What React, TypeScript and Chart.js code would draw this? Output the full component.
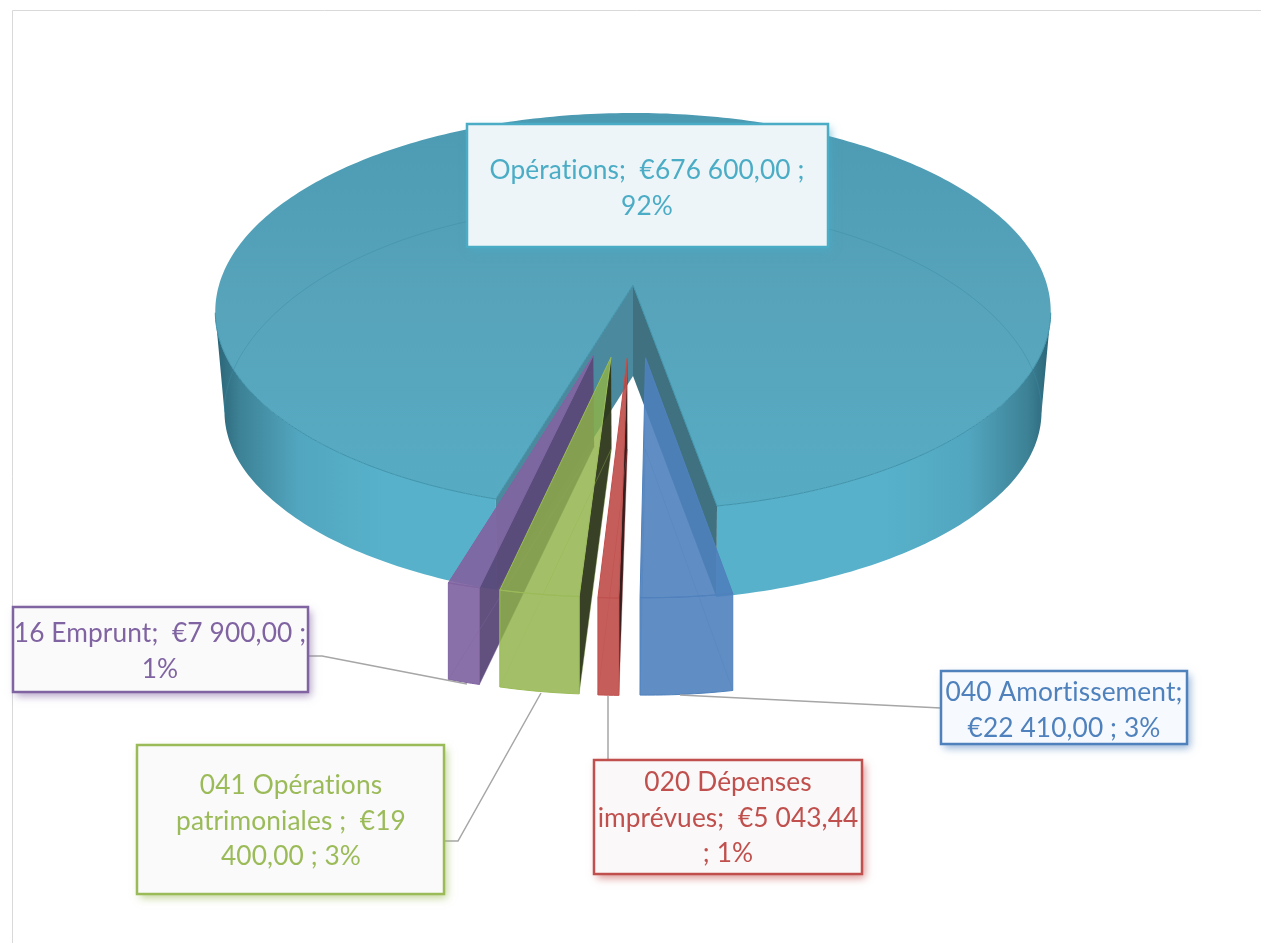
import React, { useEffect, useRef } from "react";
import { Chart, registerables } from "chart.js";

Chart.register(...registerables);

// ---- data ----
const categories = ["Opérations", "040 Amortissement", "020 Dépenses imprévues", "041 Opérations patrimoniales", "16 Emprunt"];
const values = [676600, 22410, 5043.44, 19400, 7900];
const labelLines = [
  ["Opérations;  €676 600,00 ;", "92%"],
  ["040 Amortissement;", "€22 410,00 ; 3%"],
  ["020 Dépenses", "imprévues;  €5 043,44", "; 1%"],
  ["041 Opérations", "patrimoniales ;  €19", "400,00 ; 3%"],
  ["16 Emprunt;  €7 900,00 ;", "1%"],
];
const lineColors = ["#4bacc6", "#4f81bd", "#c0504d", "#9bbb59", "#8064a2"];
const boxFills = ["#edf5f8", "#f6f9fd", "#faf8f8", "#fafafa", "#fafafa"];

// ---- layout of the label boxes: x0, y0, x1, y1, text centre of 1st line ----
const boxes = [
  { x0: 467, y0: 124, x1: 828, y1: 247, cx: 647, ty: 171 },
  { x0: 941, y0: 671, x1: 1187, y1: 744, cx: 1064, ty: 693 },
  { x0: 594, y0: 760, x1: 862, y1: 874, cx: 728, ty: 783 },
  { x0: 137, y0: 745, x1: 444, y1: 894, cx: 291, ty: 786 },
  { x0: 13, y0: 607, x1: 308, y1: 692, cx: 160, ty: 634 },
];
const leaders = [
  [] as number[][],
  [[941, 708], [680, 695]],
  [[608, 760], [608, 696]],
  [[445, 841], [458, 841], [541, 693]],
  [[308, 656], [322, 656], [467, 684]],
];

// ---- projection of the pie's plane onto the page ----
const CX = 633, CY = 285, K = 0.1335, A = 195, B = 414;
const EXPLODE = 0.357, SLICE_R = 0.965;
const DEG = Math.PI / 180;

type Pt = [number, number];
function project(u: number, v: number, z: number): Pt {
  const d = 1 - K * v;
  const x = (B * u) / d;
  const y = (A * v) / d;
  const depth = 91 + 20 * Math.max(0, v - 1) + 9 * u * u * u * u;
  const squeeze = 0.022 * z * Math.min(1, Math.max(0, (1.2 - v) / 0.6));
  return [CX + x * (1 - squeeze), CY + y + z * depth];
}
function poly(ctx: CanvasRenderingContext2D, pts: Pt[]) {
  ctx.beginPath();
  pts.forEach((p, i) => (i ? ctx.lineTo(p[0], p[1]) : ctx.moveTo(p[0], p[1])));
  ctx.closePath();
}
function line(ctx: CanvasRenderingContext2D, pts: Pt[]) {
  ctx.beginPath();
  pts.forEach((p, i) => (i ? ctx.lineTo(p[0], p[1]) : ctx.moveTo(p[0], p[1])));
}
function arcPts(a0: number, a1: number, r: number, ou: number, ov: number, z: number): Pt[] {
  const n = Math.max(4, Math.ceil(Math.abs(a1 - a0) / (1 * DEG)));
  const out: Pt[] = [];
  for (let i = 0; i <= n; i++) {
    const a = a0 + ((a1 - a0) * i) / n;
    out.push(project(ou + r * Math.cos(a), ov + r * Math.sin(a), z));
  }
  return out;
}

function drawMain(ctx: CanvasRenderingContext2D, a0: number, a1: number) {
  // a0 = left cut edge (front-left), a1 = right cut edge (front-right) + 360deg
  const apexT = project(0, 0, 0);
  const apexB = project(0, 0, 1);
  const leftT = project(Math.cos(a0), Math.sin(a0), 0);
  const leftB = project(Math.cos(a0), Math.sin(a0), 1);
  const rightT = project(Math.cos(a1), Math.sin(a1), 0);
  const rightB = project(Math.cos(a1), Math.sin(a1), 1);

  // outer wall, from the cut edges to the silhouette tangents
  const g = ctx.createLinearGradient(215, 0, 1052, 0);
  g.addColorStop(0, "#2a6275");
  g.addColorStop(0.03, "#3d8296");
  g.addColorStop(0.1, "#52a6bf");
  g.addColorStop(0.2, "#57b1ca");
  g.addColorStop(0.8, "#57b1ca");
  g.addColorStop(0.9, "#52a6bf");
  g.addColorStop(0.97, "#3d8296");
  g.addColorStop(1, "#2a6275");
  ctx.fillStyle = g;
  const w1 = arcPts(a0, 172 * DEG, 1, 0, 0, 0).concat(arcPts(172 * DEG, a0, 1, 0, 0, 1));
  const w2 = arcPts(368 * DEG, a1, 1, 0, 0, 0).concat(arcPts(a1, 368 * DEG, 1, 0, 0, 1));
  poly(ctx, w1); ctx.fill();
  poly(ctx, w2); ctx.fill();

  // cut walls
  ctx.fillStyle = "#4b8a9e";
  poly(ctx, [apexT, leftT, leftB, apexB]); ctx.fill();
  ctx.fillStyle = "#3f7180";
  poly(ctx, [apexT, rightT, rightB, apexB]); ctx.fill();

  // top face
  const t = ctx.createLinearGradient(0, 113, 0, 510);
  t.addColorStop(0, "#4c9bb3");
  t.addColorStop(0.5, "#57a4bb");
  t.addColorStop(1, "#56acc4");
  ctx.fillStyle = t;
  poly(ctx, [apexT, ...arcPts(a0, a1, 1, 0, 0, 0)]); ctx.fill();

  // bottom rim seen through the top face
  ctx.strokeStyle = "rgba(60,140,165,0.45)";
  ctx.lineWidth = 1;
  line(ctx, arcPts(172 * DEG, 368 * DEG, 1, 0, 0, 1)); ctx.stroke();
  // front edges of the top face
  ctx.strokeStyle = "#3f93ab";
  line(ctx, arcPts(a0, 172 * DEG, 1, 0, 0, 0)); ctx.stroke();
  line(ctx, arcPts(368 * DEG, a1, 1, 0, 0, 0)); ctx.stroke();
  line(ctx, [leftT, apexT, rightT]); ctx.stroke();
}

function drawSlice(ctx: CanvasRenderingContext2D, a0: number, a1: number, face: string, wall: string, edge: string) {
  const mid = (a0 + a1) / 2;
  const ou = EXPLODE * Math.cos(mid);
  const ov = EXPLODE * Math.sin(mid);
  const apexT = project(ou, ov, 0);
  const apexB = project(ou, ov, 1);
  const topArc = arcPts(a0, a1, SLICE_R, ou, ov, 0);
  const botArc = arcPts(a0, a1, SLICE_R, ou, ov, 1);
  const side = Math.cos(mid) > 0.05 ? a1 : a0; // the cut wall that faces the viewer
  const sT = project(ou + SLICE_R * Math.cos(side), ov + SLICE_R * Math.sin(side), 0);
  const sB = project(ou + SLICE_R * Math.cos(side), ov + SLICE_R * Math.sin(side), 1);

  ctx.lineJoin = "round";
  ctx.lineWidth = 1;
  ctx.fillStyle = wall;
  poly(ctx, [apexT, sT, sB, apexB]); ctx.fill();
  ctx.fillStyle = face;
  poly(ctx, [...topArc, ...botArc.slice().reverse()]); ctx.fill();
  // far lines of the bottom, seen through
  ctx.strokeStyle = edge;
  ctx.globalAlpha = 0.35;
  line(ctx, [botArc[0], apexB, botArc[botArc.length - 1]]); ctx.stroke();
  ctx.globalAlpha = 1;
  // top face
  poly(ctx, [apexT, ...topArc]); ctx.fill();
  ctx.strokeStyle = edge;
  poly(ctx, [apexT, ...topArc]); ctx.stroke();
  poly(ctx, [...topArc, ...botArc.slice().reverse()]); ctx.stroke();
}

const sliceFaces = ["", "rgba(79,129,189,0.9)", "rgba(187,66,62,0.85)", "rgba(143,178,71,0.82)", "rgba(128,100,161,0.92)"];
const sliceWalls = ["", "rgba(60,110,175,0.2)", "rgba(30,5,5,0.9)", "rgba(45,55,25,0.95)", "rgba(90,72,120,0.95)"];

const pie3d = {
  id: "pie3d",
  beforeDraw(chart: any) {
    const c: CanvasRenderingContext2D = chart.ctx;
    c.save();
    c.fillStyle = "#ffffff";
    c.fillRect(0, 0, chart.width, chart.height);
    c.strokeStyle = "#d9d9d9";
    c.lineWidth = 1;
    c.beginPath();
    c.moveTo(12.5, chart.height);
    c.lineTo(12.5, 10.5);
    c.lineTo(chart.width, 10.5);
    c.stroke();
    c.restore();
  },
  beforeDatasetsDraw(chart: any) {
    const ctx: CanvasRenderingContext2D = chart.ctx;
    const arcs = chart.getDatasetMeta(0).data as any[];
    ctx.save();
    // first arc runs from the front-left cut, round the back, to the front-right cut
    drawMain(ctx, arcs[0].startAngle, arcs[0].endAngle);
    [1, 2, 4, 3].forEach((i) => {
      drawSlice(ctx, arcs[i].startAngle, arcs[i].endAngle, sliceFaces[i], sliceWalls[i], lineColors[i]);
    });
    ctx.restore();
    return false; // the projected faces replace the flat arcs
  },
  afterDraw(chart: any) {
    const ctx: CanvasRenderingContext2D = chart.ctx;
    ctx.save();
    // leader lines
    ctx.strokeStyle = "#a6a6a6";
    ctx.lineWidth = 1.5;
    leaders.forEach((pts) => {
      if (pts.length) {
        line(ctx, pts as Pt[]);
        ctx.stroke();
      }
    });
    // boxes with text
    boxes.forEach((b, i) => {
      ctx.save();
      ctx.shadowColor = lineColors[i] + "99";
      ctx.shadowBlur = 8;
      ctx.shadowOffsetX = 3;
      ctx.shadowOffsetY = 4;
      ctx.fillStyle = boxFills[i];
      ctx.fillRect(b.x0, b.y0, b.x1 - b.x0, b.y1 - b.y0);
      ctx.restore();
      ctx.strokeStyle = lineColors[i];
      ctx.lineWidth = 2.5;
      ctx.strokeRect(b.x0, b.y0, b.x1 - b.x0, b.y1 - b.y0);
      ctx.fillStyle = lineColors[i];
      ctx.font = "26.3px Lato";
      (ctx as any).letterSpacing = "0.1px";
      ctx.textAlign = "center";
      ctx.textBaseline = "middle";
      labelLines[i].forEach((t, j) => ctx.fillText(t, b.cx, b.ty + j * 35.5));
    });
    ctx.restore();
  },
};

export default function App() {
  const ref = useRef<HTMLCanvasElement>(null);
  useEffect(() => {
    const chart = new Chart(ref.current!, {
      type: "pie",
      data: {
        labels: categories,
        datasets: [{ data: values, backgroundColor: lineColors }],
      },
      options: {
        responsive: false,
        animation: false,
        rotation: 196.8,
        plugins: { legend: { display: false }, tooltip: { enabled: false } },
      },
      plugins: [pie3d],
    } as any);
    return () => chart.destroy();
  }, []);
  return (
    <canvas
      ref={ref}
      width={1261}
      height={943}
      style={{ position: "fixed", left: 0, top: 0, width: 1261, height: 943 }}
    />
  );
}
